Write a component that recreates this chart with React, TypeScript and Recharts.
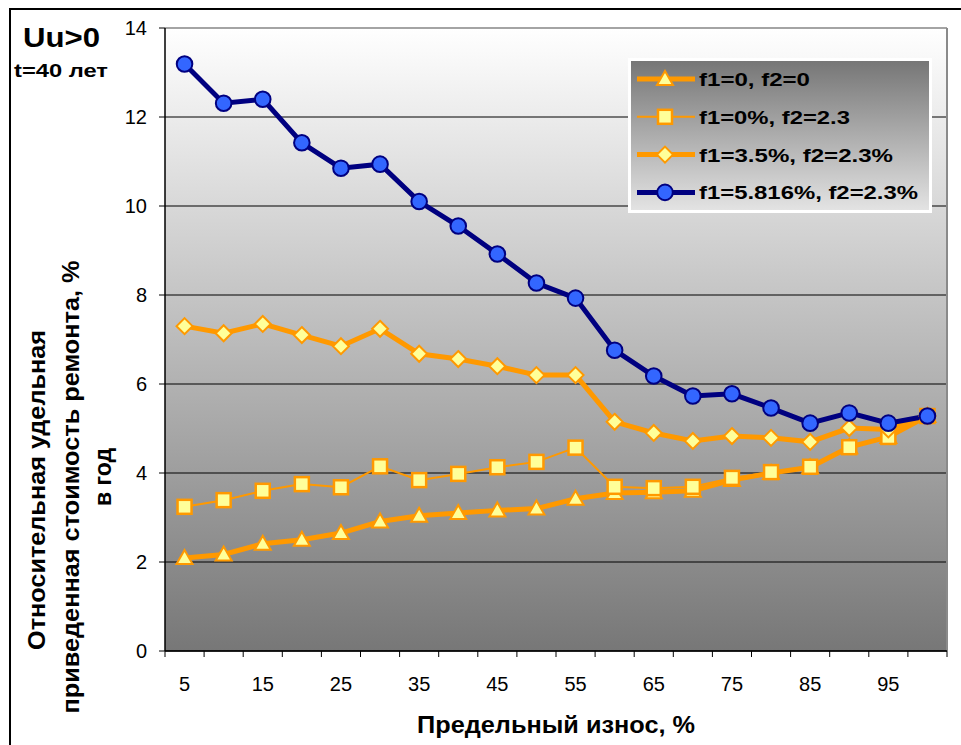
import React from 'react';
import { LineChart, Line, XAxis, YAxis, CartesianGrid, ReferenceLine, Legend } from 'recharts';

// wear limit, %
const wear = [5, 10, 15, 20, 25, 30, 35, 40, 45, 50, 55, 60, 65, 70, 75, 80, 85, 90, 95, 100];

// relative annual repair cost, %
const noRates = [2.09, 2.17, 2.41, 2.5, 2.65, 2.91, 3.04, 3.1, 3.16, 3.2, 3.42, 3.55, 3.57, 3.6, 3.84, 4.0, 4.13, 4.58, 4.81, 5.28];
const onlyF2 = [3.24, 3.39, 3.6, 3.75, 3.68, 4.15, 3.84, 3.98, 4.13, 4.25, 4.57, 3.69, 3.66, 3.69, 3.89, 4.02, 4.14, 4.58, 4.81, 5.28];
const f1Low = [7.3, 7.14, 7.35, 7.1, 6.85, 7.24, 6.68, 6.56, 6.4, 6.2, 6.2, 5.15, 4.9, 4.72, 4.83, 4.79, 4.7, 5.01, 4.98, 5.28];
const f1High = [13.19, 12.31, 12.4, 11.42, 10.85, 10.94, 10.1, 9.55, 8.92, 8.27, 7.93, 6.76, 6.18, 5.73, 5.78, 5.46, 5.12, 5.35, 5.12, 5.28];

const seriesKeys = ['noRates', 'onlyF2', 'f1Low', 'f1High'];
const seriesNames = ['f1=0, f2=0', 'f1=0%, f2=2.3', 'f1=3.5%, f2=2.3%', 'f1=5.816%, f2=2.3%'];
const yTicks = [0, 2, 4, 6, 8, 10, 12, 14];
const xTickLabels = [5, 15, 25, 35, 45, 55, 65, 75, 85, 95];

const data = wear.map((w, i) => ({
  wear: w,
  noRates: noRates[i],
  onlyF2: onlyF2[i],
  f1Low: f1Low[i],
  f1High: f1High[i],
}));

const W = 961;
const H = 745;
const PLOT_LEFT = 165;
const PLOT_RIGHT = 947;
const PLOT_TOP = 28;
const PLOT_BOTTOM = 651;
const HALF_STEP = (wear[1] - wear[0]) / 2;
const HALF_BAND = (PLOT_RIGHT - PLOT_LEFT) / wear.length / 2;

const ORANGE = '#FF9900';
const PALE = '#FFFF99';
const NAVY = '#000080';
const BLUE = '#3366FF';
const FONT = '"Liberation Sans", Arial, Helvetica, sans-serif';

type Kind = 'triangle' | 'square' | 'diamond' | 'circle';

const markerOf: Record<string, Kind> = {
  noRates: 'triangle',
  onlyF2: 'square',
  f1Low: 'diamond',
  f1High: 'circle',
};

function Marker({ kind, cx, cy }: { kind: Kind; cx: number; cy: number }) {
  if (kind === 'triangle') {
    return (
      <polygon
        points={`${cx},${cy - 8} ${cx + 8},${cy + 6} ${cx - 8},${cy + 6}`}
        fill={PALE}
        stroke={ORANGE}
        strokeWidth={2}
        strokeLinejoin="miter"
      />
    );
  }
  if (kind === 'square') {
    return <rect x={cx - 7} y={cy - 7} width={14} height={14} fill={PALE} stroke={ORANGE} strokeWidth={2.5} />;
  }
  if (kind === 'diamond') {
    return (
      <polygon
        points={`${cx},${cy - 8} ${cx + 8},${cy} ${cx},${cy + 8} ${cx - 8},${cy}`}
        fill={PALE}
        stroke={ORANGE}
        strokeWidth={2}
      />
    );
  }
  return <circle cx={cx} cy={cy} r={7.8} fill={BLUE} stroke={NAVY} strokeWidth={2} />;
}

const dotFor = (kind: Kind) => (p: any) => (
  <g key={`${kind}-${p.index}`}>
    <Marker kind={kind} cx={p.cx} cy={p.cy} />
  </g>
);

// tick marks sit on the category boundaries, labels on every other category
function WearTick(props: any) {
  const { x, payload, index } = props;
  const last = index === wear.length - 1;
  return (
    <g>
      <line x1={x - HALF_BAND} x2={x - HALF_BAND} y1={PLOT_BOTTOM} y2={PLOT_BOTTOM + 6} stroke="#000" />
      {last && <line x1={x + HALF_BAND} x2={x + HALF_BAND} y1={PLOT_BOTTOM} y2={PLOT_BOTTOM + 6} stroke="#000" />}
      {xTickLabels.includes(payload.value) && (
        <text x={x} y={691} textAnchor="middle" fontSize={20} fontFamily={FONT} fill="#000">
          {payload.value}
        </text>
      )}
    </g>
  );
}

const lineWidths: Record<string, number> = { noRates: 5, onlyF2: 2, f1Low: 5, f1High: 5 };
const legendText: Record<string, number> = { noRates: 111, onlyF2: 151, f1Low: 194, f1High: 219 };

function LegendBox(props: any) {
  const payload = [...(props.payload || [])].sort(
    (a: any, b: any) => seriesKeys.indexOf(String(a.dataKey)) - seriesKeys.indexOf(String(b.dataKey)),
  );
  return (
    <svg width={304} height={155}>
      <defs>
        <linearGradient id="legendBg" x1="0" y1="0" x2="0" y2="1">
          <stop offset="0%" stopColor="#757575" />
          <stop offset="100%" stopColor="#e4e4e4" />
        </linearGradient>
      </defs>
      <rect x={1.5} y={1.5} width={301} height={152} fill="url(#legendBg)" stroke="#fff" strokeWidth={3} />
      {payload.map((item: any, i: number) => {
        const key = String(item.dataKey);
        const cy = 21 + i * 37.8;
        return (
          <g key={key}>
            <line x1={9} x2={67} y1={cy} y2={cy} stroke={item.color} strokeWidth={lineWidths[key]} />
            <Marker kind={markerOf[key]} cx={37} cy={cy} />
            <text
              x={71}
              y={cy + 7}
              fontSize={19}
              fontWeight="bold"
              fontFamily={FONT}
              fill="#000"
              textLength={legendText[key]}
              lengthAdjust="spacingAndGlyphs"
            >
              {item.value}
            </text>
          </g>
        );
      })}
    </svg>
  );
}

export default function App() {
  return (
    <div style={{ position: 'absolute', left: 0, top: 0, width: W, height: H, overflow: 'hidden', background: '#fff' }}>
      <div
        style={{
          position: 'absolute',
          left: 9,
          top: 8,
          width: W + 20,
          height: H + 20,
          border: '2px solid #000',
          boxSizing: 'border-box',
        }}
      />
      <LineChart
        width={W}
        height={H}
        data={data}
        margin={{ top: PLOT_TOP, right: W - PLOT_RIGHT, left: 0, bottom: 0 }}
      >
        <defs>
          <linearGradient id="plotBg" x1="0" y1="0" x2="0" y2="1">
            <stop offset="0%" stopColor="#ffffff" />
            <stop offset="100%" stopColor="#777777" />
          </linearGradient>
        </defs>
        <CartesianGrid vertical={false} stroke="#000" strokeWidth={1} fill="url(#plotBg)" />
        <XAxis
          dataKey="wear"
          type="number"
          domain={[wear[0] - HALF_STEP, wear[wear.length - 1] + HALF_STEP]}
          ticks={wear}
          interval={0}
          height={H - PLOT_BOTTOM}
          axisLine={{ stroke: '#000', strokeWidth: 1.5 }}
          tickLine={false}
          tick={<WearTick />}
        />
        <YAxis
          domain={[0, 14]}
          ticks={yTicks}
          interval={0}
          width={PLOT_LEFT}
          axisLine={{ stroke: '#000', strokeWidth: 1.5 }}
          tickLine={{ stroke: '#000' }}
          tickSize={6}
          tickMargin={12}
          tick={{ fontSize: 20, fontFamily: FONT, fill: '#000' }}
        />
        <ReferenceLine y={14} stroke="#b0b0b0" strokeWidth={1.5} />
        <ReferenceLine x={wear[wear.length - 1] + HALF_STEP} stroke="#8a8a8a" strokeWidth={2} />
        <Legend
          layout="horizontal"
          verticalAlign="middle"
          align="center"
          itemSorter={(item: any) => seriesKeys.indexOf(String(item.dataKey))}
          content={<LegendBox />}
          wrapperStyle={{ position: 'absolute', left: 628, top: 58, width: 304, height: 155 }}
        />
        <Line
          dataKey="noRates"
          name={seriesNames[0]}
          stroke={ORANGE}
          strokeWidth={5}
          dot={dotFor('triangle')}
          activeDot={false}
          isAnimationActive={false}
        />
        <Line
          dataKey="onlyF2"
          name={seriesNames[1]}
          stroke={ORANGE}
          strokeWidth={2}
          dot={dotFor('square')}
          activeDot={false}
          isAnimationActive={false}
        />
        <Line
          dataKey="f1Low"
          name={seriesNames[2]}
          stroke={ORANGE}
          strokeWidth={5}
          dot={dotFor('diamond')}
          activeDot={false}
          isAnimationActive={false}
        />
        <Line
          dataKey="f1High"
          name={seriesNames[3]}
          stroke={NAVY}
          strokeWidth={5}
          dot={dotFor('circle')}
          activeDot={false}
          isAnimationActive={false}
        />
      </LineChart>
      <svg
        width={W}
        height={H}
        style={{ position: 'absolute', left: 0, top: 0, pointerEvents: 'none' }}
        fontFamily={FONT}
        fontWeight="bold"
        fill="#000"
      >
        <text x={23} y={47} fontSize={27} textLength={77} lengthAdjust="spacingAndGlyphs">
          Uu&gt;0
        </text>
        <text x={14} y={77} fontSize={18} textLength={94} lengthAdjust="spacingAndGlyphs">
          t=40 лет
        </text>
        <text x={556} y={733} fontSize={23} textAnchor="middle" textLength={278} lengthAdjust="spacingAndGlyphs">
          Предельный износ, %
        </text>
        <text transform="translate(45,490) rotate(-90)" fontSize={23} textAnchor="middle" textLength={320} lengthAdjust="spacingAndGlyphs">
          Относительная удельная
        </text>
        <text transform="translate(79,487) rotate(-90)" fontSize={23} textAnchor="middle" textLength={453} lengthAdjust="spacingAndGlyphs">
          приведенная стоимость ремонта, %
        </text>
        <text transform="translate(111,477) rotate(-90)" fontSize={23} textAnchor="middle">
          в год
        </text>
      </svg>
    </div>
  );
}
